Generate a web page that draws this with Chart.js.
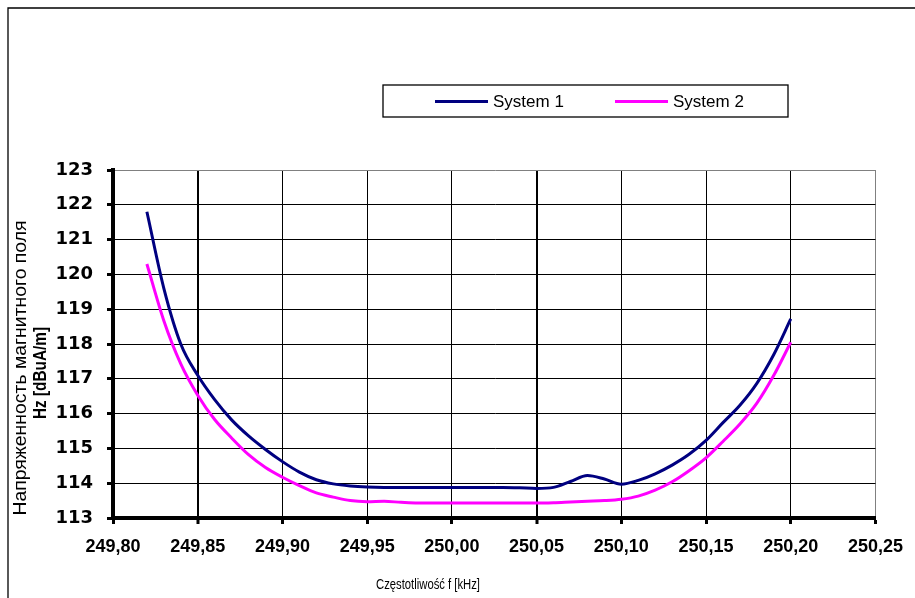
<!DOCTYPE html>
<html><head><meta charset="utf-8">
<script src="https://cdn.jsdelivr.net/npm/chart.js@4.4.0/dist/chart.umd.min.js"></script>
<style>html,body{margin:0;padding:0;background:#fff;}#wrap{width:915px;height:598px;position:relative;}</style>
</head><body><div id="wrap"><canvas id="c" width="915" height="598"></canvas></div>
<script>
const freqs = [249.82,249.83,249.84,249.85,249.86,249.87,249.88,249.89,249.90,249.91,249.92,249.93,249.94,249.95,249.96,249.97,249.98,249.99,250.00,250.01,250.02,250.03,250.04,250.05,250.06,250.07,250.08,250.09,250.10,250.11,250.12,250.13,250.14,250.15,250.16,250.17,250.18,250.19,250.20];
const system1 = [121.8,119.6,118.0,117.1,116.4,115.82,115.36,114.97,114.62,114.32,114.1,113.98,113.92,113.89,113.88,113.88,113.88,113.88,113.88,113.88,113.88,113.88,113.87,113.85,113.88,114.05,114.22,114.12,113.97,114.08,114.27,114.52,114.83,115.23,115.74,116.24,116.87,117.7,118.72];
const system2 = [120.3,118.67,117.43,116.53,115.83,115.3,114.82,114.45,114.17,113.93,113.72,113.6,113.5,113.47,113.48,113.45,113.43,113.43,113.43,113.43,113.43,113.43,113.43,113.43,113.44,113.46,113.48,113.5,113.54,113.63,113.8,114.04,114.36,114.73,115.2,115.7,116.3,117.1,118.05];
const xTickValues = [249.80,249.85,249.90,249.95,250.00,250.05,250.10,250.15,250.20,250.25];
const xTickLabels = ['249,80','249,85','249,90','249,95','250,00','250,05','250,10','250,15','250,20','250,25'];
const yTickValues = [113,114,115,116,117,118,119,120,121,122,123];
const seriesNames = ['System 1','System 2'];
const seriesColors = ['#000080','#FF00FF'];
const yTitleLines = ['Напряженность магнитного поля','Hz [dBuA/m]'];
const xTitle = 'Częstotliwość f [kHz]';

const toPts = (ys) => freqs.map((f,i)=>({x:f,y:ys[i]}));

function drawScaledText(ctx, text, font, cx, cy, targetWidth, rot){
  ctx.save();
  ctx.font = font;
  const w = ctx.measureText(text).width;
  ctx.translate(cx, cy);
  if (rot) ctx.rotate(rot);
  ctx.scale(targetWidth / w, 1);
  ctx.textAlign = 'center';
  ctx.textBaseline = 'middle';
  ctx.fillStyle = '#000';
  ctx.fillText(text, 0, 0);
  ctx.restore();
}

const deco = {
  id: 'deco',
  beforeDraw(chart){
    const ctx = chart.ctx;
    ctx.save();
    ctx.fillStyle = '#fff';
    ctx.fillRect(0,0,chart.width,chart.height);
    ctx.strokeStyle = '#000';
    ctx.lineWidth = 1.3;
    ctx.beginPath();
    ctx.moveTo(8, chart.height + 5);
    ctx.lineTo(8, 8);
    ctx.lineTo(chart.width + 5, 8);
    ctx.stroke();
    ctx.restore();
  },
  afterDraw(chart){
    const ctx = chart.ctx;
    ctx.save();
    ctx.fillStyle = '#fff';
    ctx.fillRect(383, 85, 405, 32);
    ctx.strokeStyle = '#000';
    ctx.lineWidth = 1.3;
    ctx.strokeRect(383, 85, 405, 32);
    const lx = [435, 615];
    chart.data.datasets.forEach((ds, i) => {
      ctx.strokeStyle = ds.borderColor;
      ctx.lineWidth = 3;
      ctx.beginPath();
      ctx.moveTo(lx[i], 101.5);
      ctx.lineTo(lx[i] + 53, 101.5);
      ctx.stroke();
      ctx.fillStyle = '#000';
      ctx.font = '17px "Liberation Sans", Arial, sans-serif';
      ctx.textAlign = 'left';
      ctx.textBaseline = 'middle';
      ctx.fillText(ds.label, lx[i] + 58, 102);
    });
    ctx.restore();
    drawScaledText(ctx, yTitleLines[0], '18px "Liberation Sans", Arial, sans-serif', 21.5, 368, 295, -Math.PI/2);
    drawScaledText(ctx, yTitleLines[1], 'bold 18px "Liberation Sans", Arial, sans-serif', 41, 373, 92, -Math.PI/2);
    drawScaledText(ctx, xTitle, '14px "Liberation Sans", Arial, sans-serif', 428, 585, 104, 0);
  }
};

new Chart(document.getElementById('c'), {
  type: 'line',
  data: {
    datasets: [
      {label: seriesNames[0], data: toPts(system1), borderColor: seriesColors[0], borderWidth: 3, pointRadius: 0, cubicInterpolationMode: 'monotone', fill: false},
      {label: seriesNames[1], data: toPts(system2), borderColor: seriesColors[1], borderWidth: 3, pointRadius: 0, cubicInterpolationMode: 'monotone', fill: false}
    ]
  },
  options: {
    responsive: false,
    animation: false,
    layout: {padding: {top: 170, right: 38, left: 0, bottom: 0}},
    plugins: {legend: {display: false}, tooltip: {enabled: false}},
    scales: {
      x: {
        type: 'linear', min: 249.80, max: 250.25,
        afterBuildTicks: (s) => { s.ticks = xTickValues.map(v => ({value: v})); },
        afterFit: (s) => { s.height = 80; },
        ticks: {
          callback: (v) => { const i = xTickValues.findIndex(t => Math.abs(t - v) < 1e-6); return i >= 0 ? xTickLabels[i] : ''; },
          font: {family: '"Liberation Sans", Arial, sans-serif', size: 18, weight: 'bold'},
          color: '#000', padding: 12, maxRotation: 0, autoSkip: false
        },
        grid: {
          color: (c) => (c.tick && Math.abs(c.tick.value - 250.25) < 1e-6) ? '#808080' : '#000',
          lineWidth: (c) => (c.tick && (Math.abs(c.tick.value - 249.85) < 1e-6 || Math.abs(c.tick.value - 250.05) < 1e-6)) ? 2 : 1,
          tickColor: '#000', tickLength: 6, tickWidth: 3, drawTicks: true
        },
        border: {color: '#000', width: 4}
      },
      y: {
        min: 113, max: 123,
        afterBuildTicks: (s) => { s.ticks = yTickValues.map(v => ({value: v})); },
        afterFit: (s) => { s.width = 113; },
        ticks: {
          font: {family: '"DejaVu Sans", sans-serif', size: 18, weight: 'bold'},
          color: '#000', padding: 14
        },
        grid: {
          color: (c) => (c.tick && c.tick.value === 123) ? '#808080' : '#000',
          lineWidth: 1, tickColor: '#000', tickLength: 6, tickWidth: 3
        },
        border: {color: '#000', width: 4}
      }
    }
  },
  plugins: [deco]
});
</script></body></html>
